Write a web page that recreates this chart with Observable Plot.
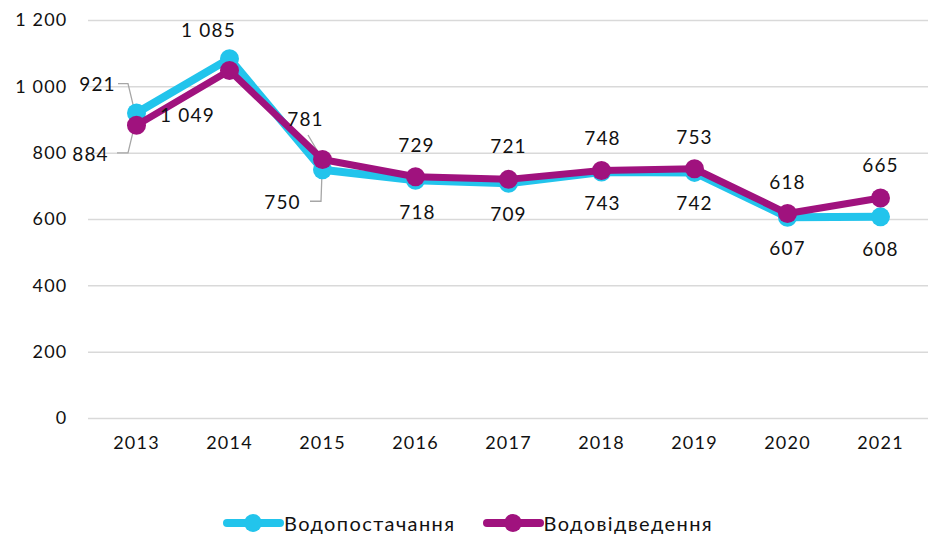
<!DOCTYPE html>
<html><head><meta charset="utf-8">
<script src="https://cdn.jsdelivr.net/npm/d3@7"></script>
<script src="https://cdn.jsdelivr.net/npm/@observablehq/plot@0.6"></script>
<style>
body{margin:0;background:#fff;font-family:Lato,"Open Sans",sans-serif;}
#chart svg text{letter-spacing:1.2px}
#legend{display:flex;justify-content:center;gap:26px;font-size:20px;letter-spacing:1.4px;color:#111;margin-top:42px;padding-left:4px;height:22px}
#legend span{display:flex;align-items:center;gap:0px}
</style></head>
<body><div id="chart"></div><div id="legend"></div>
<script>
const years = ["2013","2014","2015","2016","2017","2018","2019","2020","2021"];
const supply = [921,1085,750,718,709,743,742,607,608];
const drainage = [884,1049,781,729,721,748,753,618,665];
const seriesNames = ["Водопостачання","Водовідведення"];
const colors = ["#22C4EC","#A0127E"];
const yTicks = [0,200,400,600,800,1000,1200];

const fmt = v => d3.format(",")(v).replace(/,/g," ");

// label placement: dx, dy (px) per point; leader polyline offsets (px) relative to point
const supplyLabel = [[-39,-28],[-21,-28],[-40,33],[2,33],[0,32],[1,32],[0,32],[0,32],[0,33]];
const drainageLabel = [[-46,30],[-42,45],[-17,-40],[1,-31],[0,-32],[1,-32],[0,-31],[0,-31],[0,-32]];
const leaders = [
  {s:0,i:0,pts:[[-18,-29],[-8,-29],[-2,-4]]},
  {s:1,i:0,pts:[[-19,28],[-8,28],[-2,3]]},
  {s:0,i:2,pts:[[-12,32],[-1,32],[0,3]]},
  {s:1,i:1,pts:[[-41,27],[-1,0]]},
  {s:1,i:2,pts:[[-14,-24],[-1,-2]]}
];

const rows = [];
years.forEach((y,i)=>{
  rows.push({year:y,value:supply[i],series:seriesNames[0],dx:supplyLabel[i][0],dy:supplyLabel[i][1]});
  rows.push({year:y,value:drainage[i],series:seriesNames[1],dx:drainageLabel[i][0],dy:drainageLabel[i][1]});
});
const allSeries=[supply,drainage];

function leaderMark(index, scales) {
  const g = d3.create("svg:g");
  for (const L of leaders) {
    const px = scales.x(years[L.i]), py = scales.y(allSeries[L.s][L.i]);
    g.append("polyline")
      .attr("points", L.pts.map(([a,b])=>`${px+a},${py+b}`).join(" "))
      .attr("fill","none").attr("stroke","#a6a6a6").attr("stroke-width",1.3);
  }
  return g.node();
}

const chart = Plot.plot({
  width: 931, height: 470,
  marginTop: 20, marginBottom: 52, marginLeft: 88, marginRight: 3,
  style:{fontFamily:"Lato, 'Open Sans', sans-serif", fontSize:"18px", color:"#111"},
  x:{type:"point", domain:years, padding:0.5, label:null},
  y:{domain:[0,1200], ticks:yTicks, label:null},
  marks:[
    Plot.gridY(yTicks,{stroke:"#d9d9d9", strokeOpacity:1, strokeWidth:1.5}),
    Plot.axisY(yTicks,{tickSize:0, tickPadding:21, tickFormat:fmt, fontSize:18}),
    Plot.axisX({tickSize:0, tickPadding:18, fontSize:18}),
    leaderMark,
    Plot.line(rows.filter(d=>d.series===seriesNames[0]),{x:"year",y:"value",stroke:colors[0],strokeWidth:8,strokeLinejoin:"round",strokeLinecap:"round"}),
    Plot.dot(rows.filter(d=>d.series===seriesNames[0]),{x:"year",y:"value",fill:colors[0],r:9.5}),
    Plot.line(rows.filter(d=>d.series===seriesNames[1]),{x:"year",y:"value",stroke:colors[1],strokeWidth:7,strokeLinejoin:"round",strokeLinecap:"round"}),
    Plot.dot(rows.filter(d=>d.series===seriesNames[1]),{x:"year",y:"value",fill:colors[1],r:9.5}),
    Plot.text(rows,{x:"year",y:"value",text:d=>fmt(d.value),
      render:(index,scales,values,dims,ctx,next)=>{
        const g = next(index,scales,values,dims,ctx);
        d3.select(g).selectAll("text").each(function(_,k){
          const i=index[k], d=rows[i];
          d3.select(this).attr("transform",`translate(${values.x[i]+d.dx},${values.y[i]+d.dy})`);
        });
        return g;
      },
      fill:"#111", fontSize:19})
  ]
});
document.getElementById("chart").append(chart);

const leg = d3.select("#legend");
seriesNames.forEach((n,i)=>{
  const s = leg.append("span");
  const sv = s.append("svg").attr("width",62).attr("height",22);
  sv.append("line").attr("x1",5).attr("x2",58).attr("y1",11).attr("y2",11).attr("stroke",colors[i]).attr("stroke-width",8).attr("stroke-linecap","round");
  sv.append("circle").attr("cx",31).attr("cy",11).attr("r",9).attr("fill",colors[i]);
  s.append("span").text(n);
});
</script></body></html>
